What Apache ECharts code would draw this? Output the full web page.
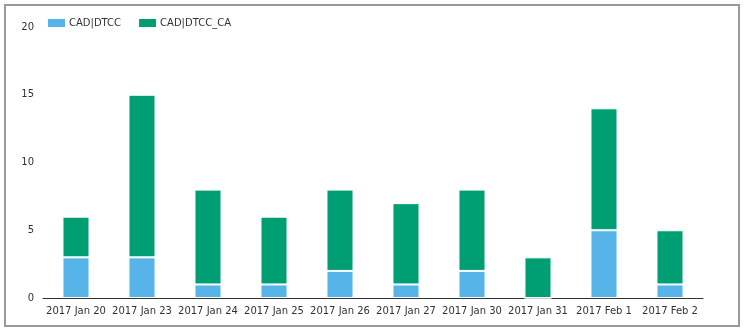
<!DOCTYPE html>
<html><head><meta charset="utf-8">
<script src="https://cdn.jsdelivr.net/npm/echarts@6/dist/echarts.min.js"></script>
<style>html,body{margin:0;padding:0;background:#fff}#c{width:745px;height:332px}</style>
</head><body><div id="c"></div>
<script>
const categories = ['2017 Jan 20','2017 Jan 23','2017 Jan 24','2017 Jan 25','2017 Jan 26','2017 Jan 27','2017 Jan 30','2017 Jan 31','2017 Feb 1','2017 Feb 2'];
const seriesNames = ['CAD|DTCC','CAD|DTCC_CA'];
const dtcc = [3,3,1,1,2,1,2,0,5,1];
const dtccCa = [3,12,7,5,6,6,6,3,9,4];
const yTicks = [0,5,10,15,20];
const chart = echarts.init(document.getElementById('c'));
const font = {fontFamily:'DejaVu Sans', fontSize:10, color:'#333'};
chart.setOption({
  animation:false,
  color:['#56B4E9','#009E73'],
  graphic:[{type:'rect',shape:{x:5,y:5,width:734,height:321},style:{fill:null,stroke:'#999',lineWidth:2},silent:true}],
  legend:{left:41,top:12,itemWidth:19,itemHeight:10,itemGap:16,icon:'rect',textStyle:Object.assign({},font,{padding:[0,0,0,-2]}),data:seriesNames},
  grid:{left:43,right:42,top:27,bottom:34,containLabel:false},
  xAxis:{type:'category',data:categories,axisTick:{show:false},axisLine:{lineStyle:{color:'#333',width:1}},axisLabel:Object.assign({margin:8,interval:0,hideOverlap:false},font)},
  yAxis:{type:'value',min:0,max:20,interval:5,splitLine:{show:false},axisLine:{show:false},axisTick:{show:false},axisLabel:Object.assign({margin:9},font)},
  series:[
    {name:seriesNames[0],type:'bar',stack:'a',data:dtcc,barWidth:'41%',itemStyle:{borderColor:'#fff',borderWidth:1}},
    {name:seriesNames[1],type:'bar',stack:'a',data:dtccCa,barWidth:'41%',itemStyle:{borderColor:'#fff',borderWidth:1}}
  ]
});
</script></body></html>
